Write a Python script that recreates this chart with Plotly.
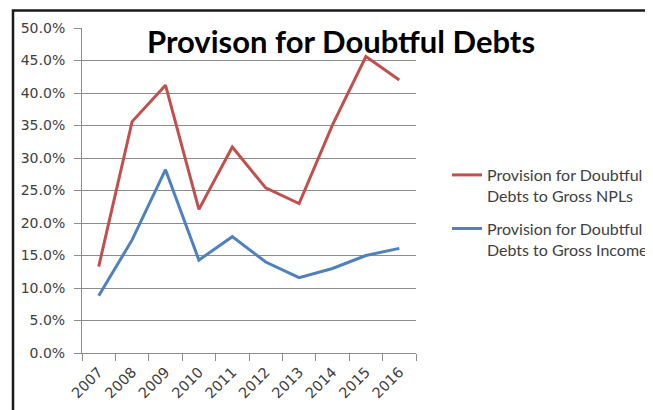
import plotly.graph_objects as go

years = ["2007", "2008", "2009", "2010", "2011", "2012", "2013", "2014", "2015", "2016"]
npl_ratio = [0.133, 0.356, 0.412, 0.221, 0.317, 0.254, 0.230, 0.351, 0.456, 0.420]
income_ratio = [0.088, 0.174, 0.282, 0.143, 0.179, 0.140, 0.116, 0.130, 0.150, 0.161]
names = ["Provision for Doubtful<br>Debts to Gross NPLs",
         "Provision for Doubtful<br>Debts to Gross Income"]
title_text = "Provison for Doubtful Debts"

OFF = 8  # default page body margin
W, H = 653 - OFF, 410 - OFF
L = 82 - OFF
T = 28 - OFF
R = W - (416 - OFF)
B = H - (353 - OFF)
pw = W - L - R
ph = H - T - B

def px_x(sx):
    return (sx - OFF - L) / pw

def px_y(sy):
    return (H - B - (sy - OFF)) / ph

fig = go.Figure()
fig.add_trace(go.Scatter(x=years, y=npl_ratio, mode="lines", name=names[0],
                         legendgroup="a",
                         line=dict(color="#C0504D", width=3)))
fig.add_trace(go.Scatter(x=years, y=income_ratio, mode="lines", name=names[1],
                         legendgroup="b",
                         line=dict(color="#4F81BD", width=3)))

grid = "#8c8c8c"
yfont = dict(family="DejaVu Sans", size=14, color="#404040")
xfont = dict(family="DejaVu Sans", size=14.5, color="#404040")
fig.update_layout(
    width=W, height=H,
    margin=dict(l=L, r=R, t=T, b=B, pad=0, autoexpand=False),
    paper_bgcolor="white", plot_bgcolor="white",
    font=yfont,
    showlegend=True,
    legend=dict(x=px_x(447), y=px_y(158), xanchor="left", yanchor="top",
                valign="top", tracegroupgap=9,
                font=dict(family="Lato", size=16, color="#404040"),
                bgcolor="rgba(0,0,0,0)"),
    xaxis=dict(type="category", tickson="boundaries", ticks="outside", ticklen=7,
               tickcolor=grid, showline=True, linecolor=grid, linewidth=1,
               showgrid=False, tickangle=-45, range=[-0.5, 9.5],
               ticklabelstandoff=4, tickfont=xfont, automargin=False),
    yaxis=dict(range=[0, 0.5], dtick=0.05, tickformat=".1%", ticks="outside",
               ticklen=7, tickcolor=grid, showline=True, linecolor=grid,
               linewidth=1, showgrid=True, gridcolor=grid, gridwidth=1,
               zeroline=False, ticklabelstandoff=6, tickfont=yfont,
               automargin=False),
    annotations=[dict(text="<b>" + title_text + "</b>", xref="paper", yref="paper",
                      x=px_x(340.5), y=px_y(41), xanchor="center", yanchor="middle",
                      showarrow=False,
                      font=dict(family="Lato", size=31, color="black"))],
    shapes=[dict(type="path", xref="paper", yref="paper",
                 path=f"M {px_x(13)} {px_y(430)} L {px_x(13)} {px_y(10.5)} L {px_x(700)} {px_y(10.5)}",
                 line=dict(color="#1a1a1a", width=2.5))],
)

fig.write_html("out.html")
